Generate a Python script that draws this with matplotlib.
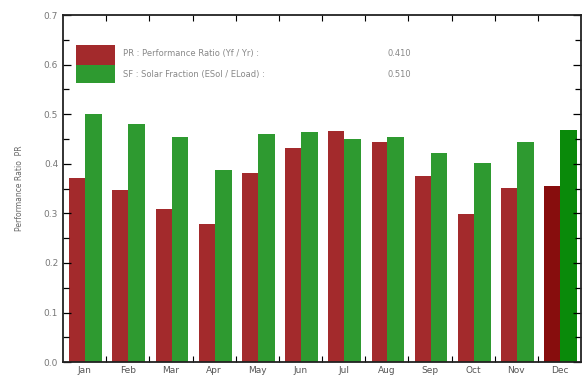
import numpy as np
import matplotlib
matplotlib.use('Agg')
from matplotlib import pyplot as plt
from matplotlib.patches import Rectangle

# Monthly performance ratio and solar fraction
months = ['Jan', 'Feb', 'Mar', 'Apr', 'May', 'Jun', 'Jul', 'Aug', 'Sep', 'Oct', 'Nov', 'Dec']
pr = [0.371, 0.347, 0.308, 0.278, 0.381, 0.431, 0.466, 0.444, 0.375, 0.298, 0.351, 0.355]
sf = [0.500, 0.480, 0.454, 0.387, 0.460, 0.464, 0.450, 0.454, 0.421, 0.401, 0.444, 0.468]
pr_year = '0.410'
sf_year = '0.510'

red = '#a32a2c'
green = '#2e9a30'
red_dec = '#870d0d'
green_dec = '#0a8a0a'

fig = plt.figure(figsize=(5.84, 3.78), dpi=100)
ax = fig.add_axes([0.108, 0.042, 0.887, 0.918])

x = np.arange(len(months))
red_cols = [red] * 11 + [red_dec]
green_cols = [green] * 11 + [green_dec]
ax.bar(x + 0.33, pr, width=0.37, color=red_cols, edgecolor='none')
ax.bar(x + 0.71, sf, width=0.39, color=green_cols, edgecolor='none')

ax.set_xlim(0, 12)
ax.set_ylim(0, 0.7)

# month names centred in each slot, small inward ticks on slot boundaries
ax.set_xticks(x + 0.5)
ax.set_xticklabels(months)
ax.set_xticks(np.arange(1, 12), minor=True)
ax.tick_params(axis='x', which='major', length=0, labelsize=6.5, colors='#555555', pad=3)
ax.tick_params(axis='x', which='minor', direction='in', length=4, top=True, bottom=True, width=0.8)

ax.set_yticks(np.arange(0, 0.71, 0.1))
ax.set_yticklabels(['%.1f' % v for v in np.arange(0, 0.71, 0.1)])
ax.set_yticks(np.arange(0, 0.71, 0.05), minor=True)
ax.tick_params(axis='y', which='both', direction='in', left=True, right=True, width=0.9,
               labelsize=6.5, labelcolor='#777777')
ax.tick_params(axis='y', which='major', length=6)
ax.tick_params(axis='y', which='minor', length=4)

for s in ax.spines.values():
    s.set_linewidth(1.3)
    s.set_color('#222222')

ax.set_ylabel('Performance Ratio  PR', fontsize=5.5, color='#666666', labelpad=14)

# legend block drawn by hand
ax.add_patch(Rectangle((0.025, 0.857), 0.075, 0.057, transform=ax.transAxes,
                       facecolor=red, edgecolor='none'))
ax.add_patch(Rectangle((0.025, 0.804), 0.075, 0.053, transform=ax.transAxes,
                       facecolor=green, edgecolor='none'))
txt = dict(transform=ax.transAxes, fontsize=6, color='#888888', va='center')
ax.text(0.116, 0.888, 'PR : Performance Ratio (Yf / Yr) :', **txt)
ax.text(0.116, 0.830, 'SF : Solar Fraction (ESol / ELoad) :', **txt)
ax.text(0.627, 0.888, pr_year, **txt)
ax.text(0.627, 0.830, sf_year, **txt)

plt.savefig('out.png', dpi=100)
